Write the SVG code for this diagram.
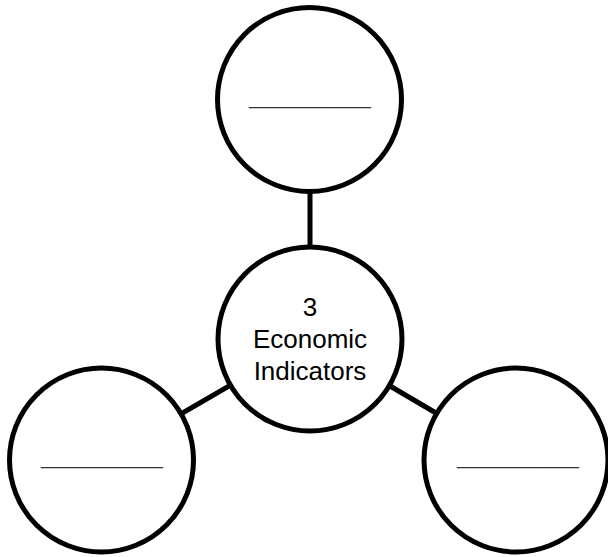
<svg xmlns="http://www.w3.org/2000/svg" width="608" height="557" viewBox="0 0 608 557">
<style>
.c{fill:#fff;stroke:#000;stroke-width:5}
.l{stroke:#000;stroke-width:5}
.t{font-family:"Liberation Sans",Arial,sans-serif;font-size:26px;fill:#000;text-anchor:middle}
.u{font-family:"Liberation Sans",Arial,sans-serif;font-size:16px;fill:#333}
</style>
<rect width="608" height="557" fill="#fff"/>
<g id="connectors">
<line class="l" x1="310" y1="99" x2="310" y2="339"/>
<line class="l" x1="310" y1="339" x2="101.5" y2="460"/>
<line class="l" x1="310" y1="339" x2="516" y2="460"/>
</g>
<g id="top">
<circle class="c" cx="309.5" cy="99.5" r="92"/>
<text class="u" x="249" y="105" textLength="122" lengthAdjust="spacingAndGlyphs">______________</text>
</g>
<g id="center">
<circle class="c" cx="310" cy="339" r="92"/>
<text class="t" x="310" y="316">3</text>
<text class="t" x="310" y="348">Economic</text>
<text class="t" x="310" y="380">Indicators</text>
</g>
<g id="left">
<circle class="c" cx="101.5" cy="460" r="92"/>
<text class="u" x="41" y="465" textLength="122" lengthAdjust="spacingAndGlyphs">______________</text>
</g>
<g id="right">
<circle class="c" cx="516" cy="460" r="92"/>
<text class="u" x="457" y="465" textLength="122" lengthAdjust="spacingAndGlyphs">______________</text>
</g>
</svg>
